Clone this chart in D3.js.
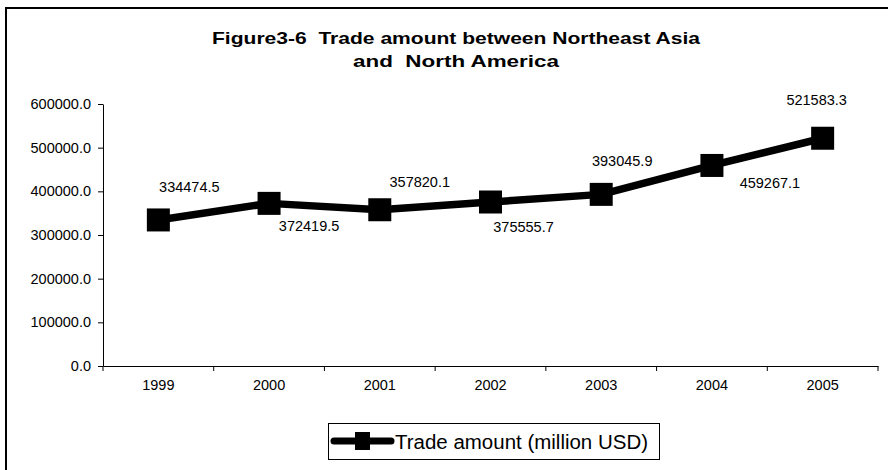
<!DOCTYPE html>
<html>
<head>
<meta charset="utf-8">
<script src="https://cdn.jsdelivr.net/npm/d3@7"></script>
<style>
  html, body { margin: 0; padding: 0; background: #fff; }
  svg { display: block; font-family: Arial, "Liberation Sans", sans-serif; }
  .title { white-space: pre; }
</style>
</head>
<body>
<svg id="chart" width="888" height="470"></svg>
<script>
// Trade amount between Northeast Asia and North America, million USD
const years = ["1999", "2000", "2001", "2002", "2003", "2004", "2005"];
const tradeAmount = [334474.5, 372419.5, 357820.1, 375555.7, 393045.9, 459267.1, 521583.3];
const yTicks = [0, 100000, 200000, 300000, 400000, 500000, 600000];
const seriesName = "Trade amount (million USD)";
const titleLines = ["Figure3-6  Trade amount between Northeast Asia", "and  North America"];

// Label placement around each marker: [dx to label centre, dy to baseline]
const labelNudge = [[31, -28], [40, 28], [40, -23], [33, 30], [21, -28], [58, 23], [-6, -33]];

const svg = d3.select("#chart");
const plot = { left: 103, right: 878, top: 104, bottom: 366 };

// Outer chart frame (runs off the right and bottom edges)
svg.append("rect")
  .attr("x", 6).attr("y", 8).attr("width", 920).attr("height", 520)
  .attr("fill", "none").attr("stroke", "#000").attr("stroke-width", 2);

// Title
const title = svg.append("text")
  .attr("class", "title")
  .attr("xml:space", "preserve")
  .attr("text-anchor", "middle")
  .attr("font-weight", "bold")
  .attr("font-size", 17)
  .attr("fill", "#000");
titleLines.forEach((t, i) => {
  title.append("tspan")
    .attr("x", 456)
    .attr("y", 44 + i * 23)
    .attr("textLength", i === 0 ? 488 : 206)
    .attr("lengthAdjust", "spacingAndGlyphs")
    .text(t);
});

const x = d3.scaleBand().domain(years).range([plot.left, plot.right]);
const y = d3.scaleLinear().domain([0, 600000]).range([plot.bottom, plot.top]);

// Y axis
const yAxis = svg.append("g")
  .attr("transform", `translate(${plot.left},0)`)
  .call(d3.axisLeft(y).tickValues(yTicks).tickFormat(d3.format(".1f")).tickSize(5).tickSizeOuter(0));
yAxis.select(".domain").attr("stroke", "#000");
yAxis.selectAll(".tick line").attr("stroke", "#000");
yAxis.selectAll(".tick text")
  .attr("x", -12)
  .attr("font-size", 14.5)
  .attr("font-family", "Arial, 'Liberation Sans', sans-serif")
  .attr("fill", "#000");

// X axis with ticks between categories
const xAxis = svg.append("g")
  .attr("transform", `translate(0,${plot.bottom})`)
  .call(d3.axisBottom(x).tickSize(0).tickSizeOuter(0));
xAxis.select(".domain").attr("stroke", "#000");
xAxis.selectAll(".tick text")
  .attr("y", 24)
  .attr("dy", 0)
  .attr("font-size", 14.5)
  .attr("font-family", "Arial, 'Liberation Sans', sans-serif")
  .attr("fill", "#000");
const boundaries = years.map(d => x(d)).concat([x(years[years.length - 1]) + x.bandwidth()]);
svg.append("g").selectAll("line")
  .data(boundaries)
  .join("line")
  .attr("x1", d => d).attr("x2", d => d)
  .attr("y1", plot.bottom).attr("y2", plot.bottom + 5)
  .attr("stroke", "#000");

const cx = d => x(d) + x.bandwidth() / 2;
const pts = years.map((yr, i) => ({ yr, v: tradeAmount[i], i }));

// Series line
svg.append("path")
  .datum(pts)
  .attr("fill", "none")
  .attr("stroke", "#000")
  .attr("stroke-width", 7.5)
  .attr("stroke-linejoin", "round")
  .attr("d", d3.line().x(d => cx(d.yr)).y(d => y(d.v)));

// Square markers
const ms = 23;
svg.append("g").selectAll("rect")
  .data(pts)
  .join("rect")
  .attr("x", d => cx(d.yr) - ms / 2)
  .attr("y", d => y(d.v) - ms / 2)
  .attr("width", ms).attr("height", ms)
  .attr("fill", "#000");

// Value labels
svg.append("g").selectAll("text")
  .data(pts)
  .join("text")
  .attr("x", d => cx(d.yr) + labelNudge[d.i][0])
  .attr("y", d => y(d.v) + labelNudge[d.i][1])
  .attr("text-anchor", "middle")
  .attr("font-size", 14.5)
  .attr("fill", "#000")
  .text(d => d3.format(".1f")(d.v));

// Legend
const lg = svg.append("g");
lg.append("rect")
  .attr("x", 328.5).attr("y", 423.5).attr("width", 331).attr("height", 36)
  .attr("fill", "#fff").attr("stroke", "#000").attr("stroke-width", 1);
lg.append("line")
  .attr("x1", 334).attr("x2", 391).attr("y1", 441).attr("y2", 441)
  .attr("stroke", "#000").attr("stroke-width", 7).attr("stroke-linecap", "round");
lg.append("rect")
  .attr("x", 355).attr("y", 432).attr("width", 15).attr("height", 18)
  .attr("fill", "#000");
lg.append("text")
  .attr("x", 395).attr("y", 448.5)
  .attr("font-size", 20)
  .attr("textLength", 253)
  .attr("lengthAdjust", "spacingAndGlyphs")
  .attr("fill", "#000")
  .text(seriesName);
</script>
</body>
</html>
